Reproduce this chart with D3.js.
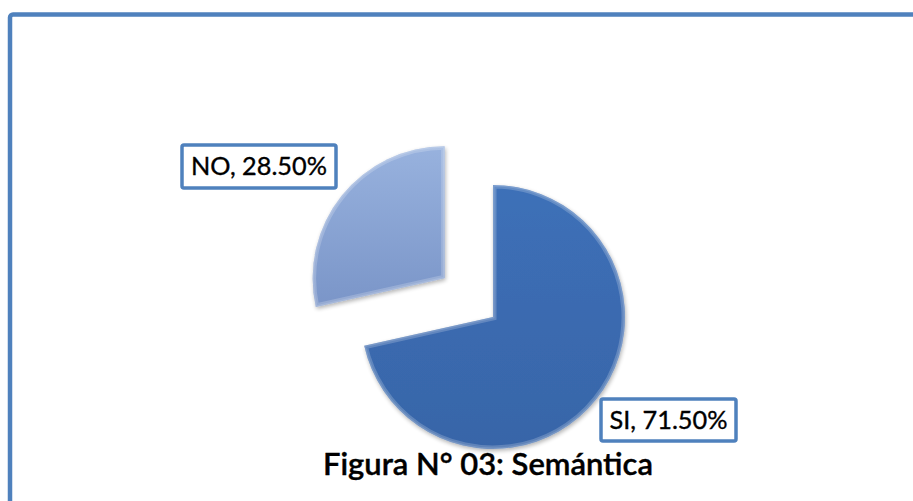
<!DOCTYPE html>
<html><head><meta charset="utf-8">
<script src="https://cdn.jsdelivr.net/npm/d3@7/dist/d3.min.js"></script>
<style>body{margin:0;background:#fff}svg{display:block}</style>
</head><body>
<svg id="c" width="913" height="501"></svg>
<script>
const categories = ["SI", "NO"];
const values = [71.5, 28.5];
const labels = ["SI, 71.50%", "NO, 28.50%"];
const title = "Figura N° 03: Semántica";

const svg = d3.select("#c");
const font = "Lato, 'Open Sans', sans-serif";

// frame
svg.append("rect").attr("x", 10).attr("y", 14.5).attr("width", 1000).attr("height", 600)
  .attr("rx", 3).attr("fill", "none").attr("stroke", "#4f81bd").attr("stroke-width", 4.5);

const defs = svg.append("defs");
const g1 = defs.append("linearGradient").attr("id", "gSI").attr("x1", 0).attr("y1", 0).attr("x2", 0).attr("y2", 1);
g1.append("stop").attr("offset", "0%").attr("stop-color", "#3d70b8");
g1.append("stop").attr("offset", "100%").attr("stop-color", "#3865a8");
const g2 = defs.append("linearGradient").attr("id", "gNO").attr("x1", 0).attr("y1", 0).attr("x2", 0).attr("y2", 1);
g2.append("stop").attr("offset", "0%").attr("stop-color", "#98b2de");
g2.append("stop").attr("offset", "100%").attr("stop-color", "#7a95c8");

const f = defs.append("filter").attr("id", "sh").attr("x", "-20%").attr("y", "-20%").attr("width", "140%").attr("height", "140%");
f.append("feGaussianBlur").attr("in", "SourceAlpha").attr("stdDeviation", 2).attr("result", "blur");
f.append("feOffset").attr("in", "blur").attr("dx", 1).attr("dy", 2).attr("result", "o");
f.append("feComponentTransfer").attr("in", "o").attr("result", "o2")
  .append("feFuncA").attr("type", "linear").attr("slope", 0.3);
const m = f.append("feMerge");
m.append("feMergeNode").attr("in", "o2");
m.append("feMergeNode").attr("in", "SourceGraphic");

const cx = 493, cy = 317, R = 132, explode = 62;
const pie = d3.pie().sort(null).value(d => d.v).startAngle(0).endAngle(2 * Math.PI);
const data = pie(categories.map((c, i) => ({c, v: values[i], l: labels[i]})));
const arc = d3.arc().innerRadius(0).outerRadius(R);
const fills = {SI: "url(#gSI)", NO: "url(#gNO)"};
const offs = {SI: 0, NO: explode};
const tr = d => {
  const a = (d.startAngle + d.endAngle) / 2, o = offs[d.data.c];
  return `translate(${cx + o * Math.sin(a)},${cy - o * Math.cos(a)})`;
};

data.forEach((d, i) => {
  defs.append("clipPath").attr("id", "cl" + i).append("path").attr("d", arc(d));
});

const gs = svg.selectAll("g.s").data(data).join("g").attr("class", "s").attr("transform", tr);
gs.append("path").attr("d", arc).attr("fill", d => fills[d.data.c]).attr("filter", "url(#sh)");
// soft bevel edge
gs.append("path").attr("d", arc).attr("fill", "none")
  .attr("stroke", "rgba(255,255,255,0.2)").attr("stroke-width", 7)
  .attr("clip-path", (d, i) => `url(#cl${i})`);
gs.append("path").attr("d", arc).attr("fill", "none")
  .attr("stroke", "rgba(255,255,255,0.15)").attr("stroke-width", 3)
  .attr("clip-path", (d, i) => `url(#cl${i})`);

// labels
const lbl = {SI: {x: 601, y: 399, w: 135, h: 42, tw: 118}, NO: {x: 182, y: 145, w: 154, h: 43, tw: 136}};
data.forEach(d => {
  const b = lbl[d.data.c];
  svg.append("rect").attr("x", b.x).attr("y", b.y).attr("width", b.w).attr("height", b.h).attr("rx", 2)
    .attr("fill", "#fff").attr("stroke", "#4f81bd").attr("stroke-width", 3.5);
  const t = svg.append("text").attr("x", b.x + b.w / 2).attr("y", b.y + b.h / 2 + 8.5)
    .attr("text-anchor", "middle").attr("font-family", font).attr("font-size", 24).attr("fill", "#000")
    .attr("stroke", "#000").attr("stroke-width", 0.35)
    .text(d.data.l);
  const len = t.node().getComputedTextLength();
  t.attr("font-size", 24 * b.tw / len);
});

const tt = svg.append("text").attr("x", 488).attr("y", 475).attr("text-anchor", "middle")
  .attr("font-family", font).attr("font-weight", 600).attr("font-size", 26).attr("fill", "#000")
  .attr("stroke", "#000").attr("stroke-width", 0.4).text(title);
const tl = tt.node().getComputedTextLength();
tt.attr("font-size", 26 * 330 / tl);
</script>
</body></html>
